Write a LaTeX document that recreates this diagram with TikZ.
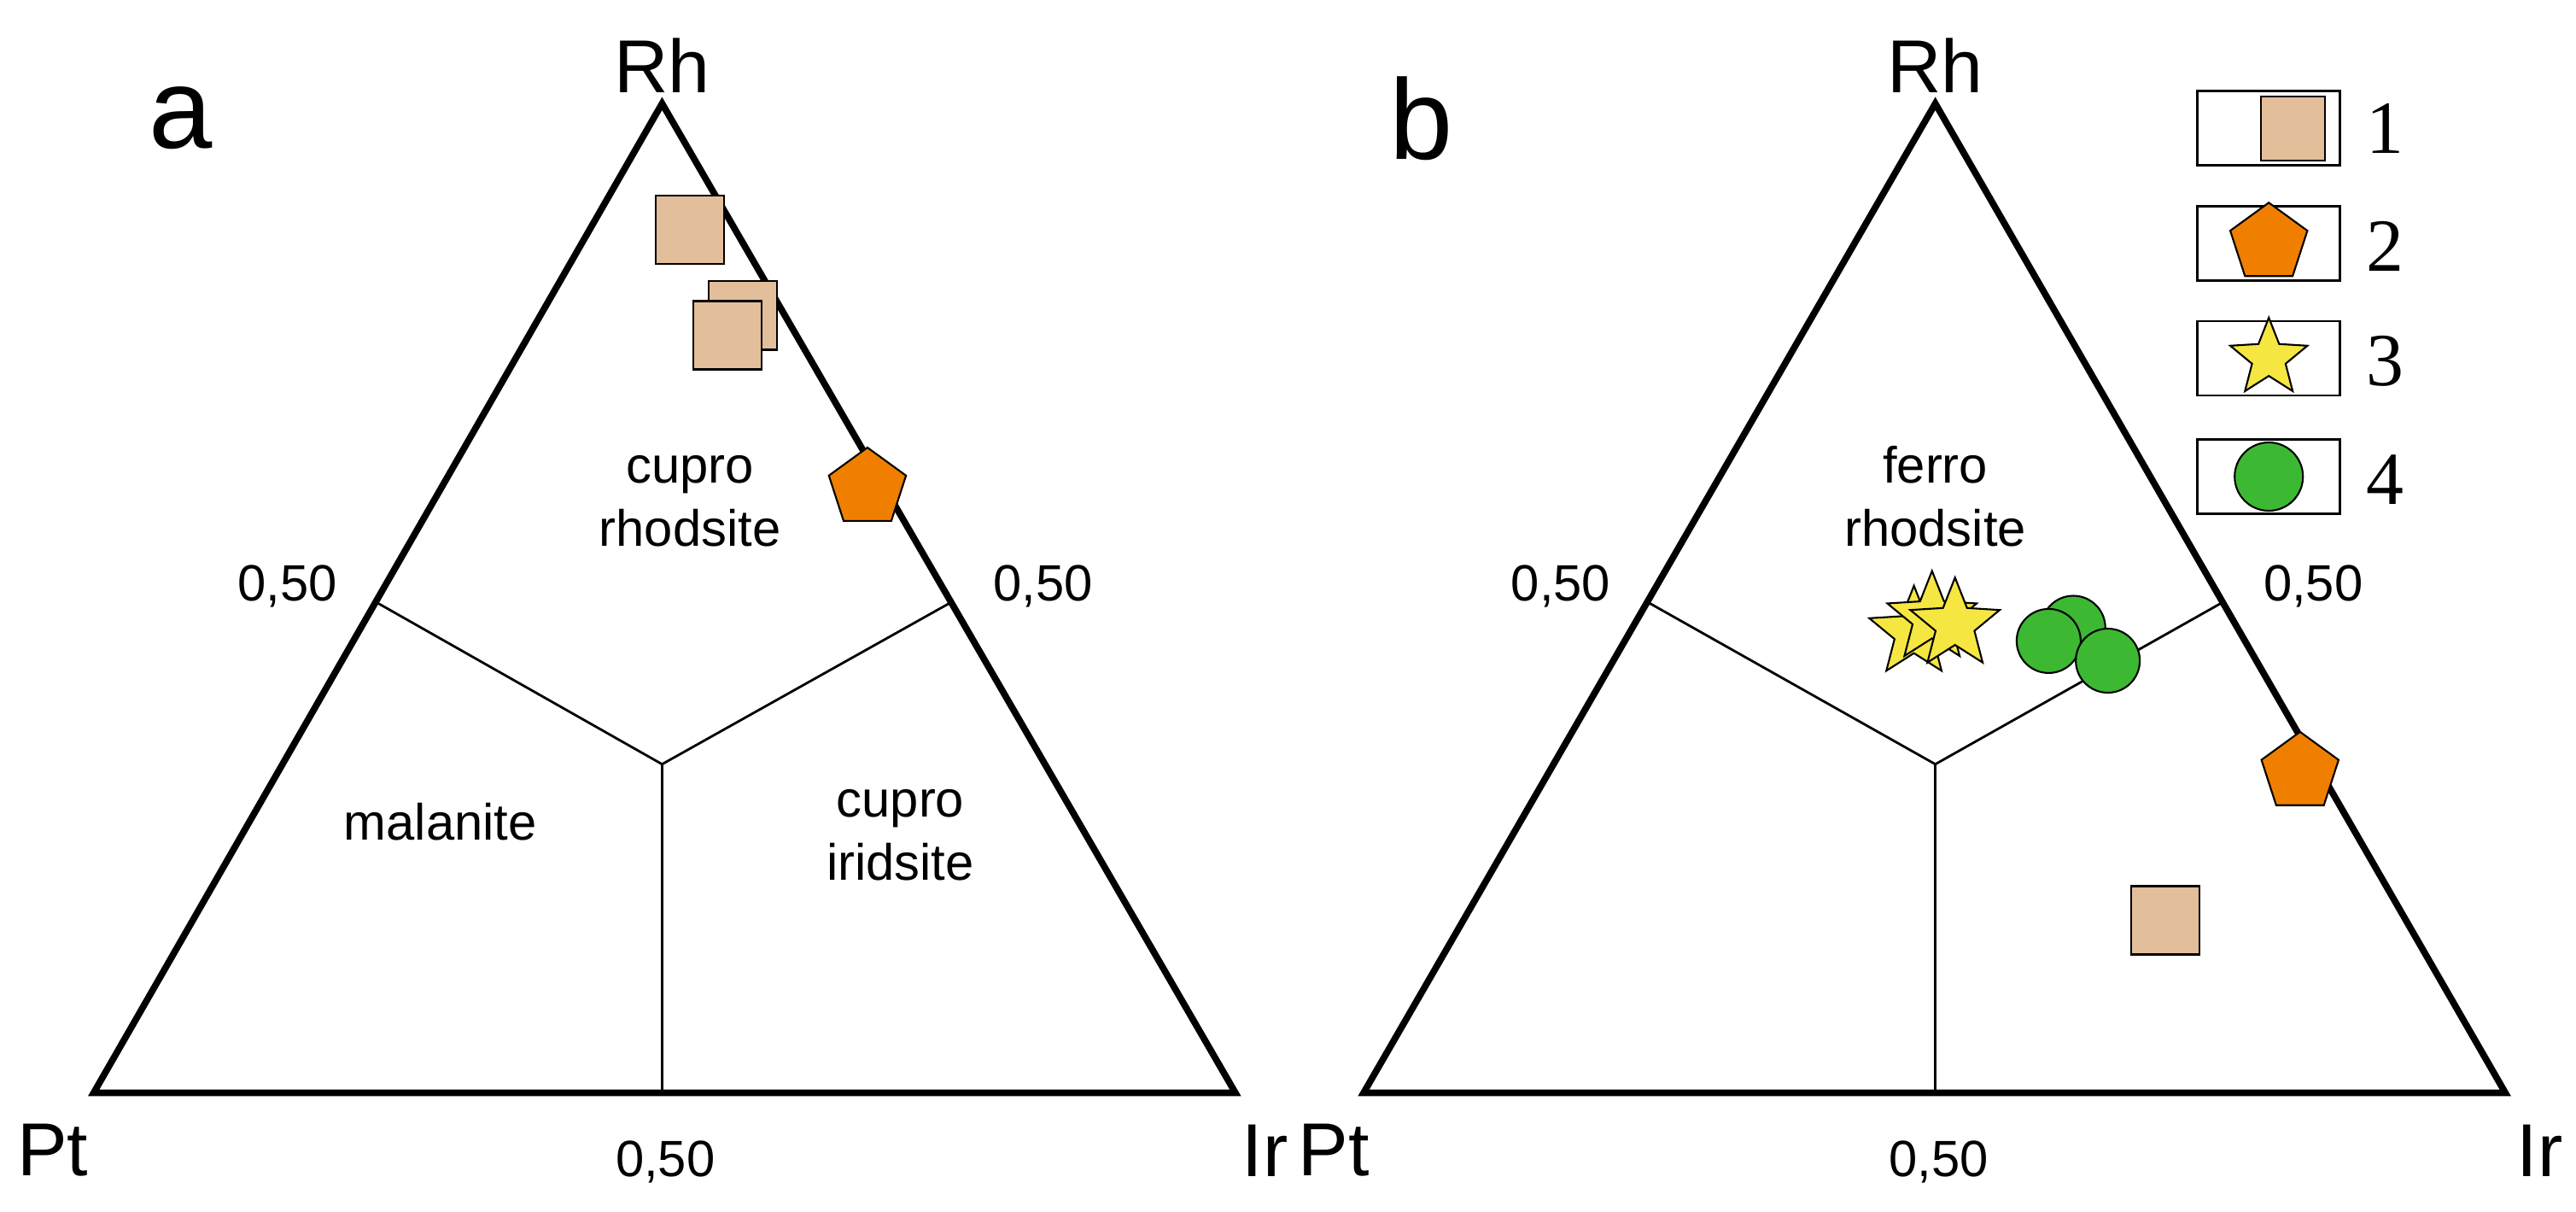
\documentclass[tikz,border=0pt]{standalone}
\usepackage{fontspec}
\setmainfont{Liberation Sans}
\newfontfamily\serifn{Liberation Serif}
\usetikzlibrary{shapes.geometric}
\definecolor{sq}{HTML}{E3BE9A}
\definecolor{pe}{HTML}{F07F00}
\definecolor{st}{HTML}{F5E642}
\definecolor{ci}{HTML}{3DB833}
\begin{document}
\begin{tikzpicture}[x=0.01924cm,y=-0.01924cm,
 tri/.style={line width=2.2pt,line join=miter},
 div/.style={line width=0.8pt},
 lab/.style={font=\fontsize{25}{25}\selectfont},
 num/.style={font=\fontsize{17}{17}\selectfont},
 reg/.style={font=\fontsize{17}{21}\selectfont,align=center},
 sqm/.style={draw,fill=sq,minimum size=0.8cm,inner sep=0,line width=0.6pt},
 pem/.style={draw,fill=pe,regular polygon,regular polygon sides=5,minimum size=0.95cm,inner sep=0,line width=0.6pt},
 stm/.style={draw,fill=st,star,star points=5,star point ratio=2.3,minimum size=1.1cm,inner sep=0,line width=0.6pt},
 cim/.style={draw,fill=ci,circle,minimum size=0.75cm,inner sep=0,line width=0.6pt},
 lbox/.style={draw,minimum width=1.67cm,minimum height=0.87cm,line width=0.8pt},
 lnum/.style={font=\serifn\fontsize{25}{25}\selectfont}]
\useasboundingbox (0,0) rectangle (1568,737);
% triangle a
\coordinate (aPt) at (57,665); \coordinate (aIr) at (752,665); \coordinate (aRh) at (403,63);
\coordinate (aL) at (230,367); \coordinate (aR) at (578,367); \coordinate (aB) at (403,665); \coordinate (aC) at (403,465);
\draw[tri] (aPt) -- (aIr) -- (aRh) -- cycle;
\draw[div] (aL) -- (aC) -- (aR); \draw[div] (aC) -- (aB);
\node[lab] (aRhl) at (403,40) {Rh};
\node[lab] (aPtl) at (32,700) {Pt};
\node[lab] (aIrl) at (770,700) {Ir};
\node[font=\fontsize{38}{38}\selectfont] (alab) at (110,72) {a};
\node[num] (an1) at (175,357) {0,50};
\node[num] (an2) at (635,357) {0,50};
\node[num] (an3) at (405,707) {0,50};
\node[reg] (ar1) at (420,305) {cupro\\rhodsite};
\node[reg] (ar2) at (268,500) {malanite};
\node[reg] (ar3) at (548,508) {cupro\\iridsite};
\node[sqm] (as1) at (420,140) {};
\node[sqm] (as2) at (452,192) {};
\node[sqm] (as3) at (443,204) {};
\node[pem] (ap1) at (528,297) {};
% triangle b
\coordinate (bPt) at (830,665); \coordinate (bIr) at (1525,665); \coordinate (bRh) at (1178,63);
\coordinate (bL) at (1004,367); \coordinate (bR) at (1352,367); \coordinate (bB) at (1178,665); \coordinate (bC) at (1178,465);
\draw[tri] (bPt) -- (bIr) -- (bRh) -- cycle;
\draw[div] (bL) -- (bC) -- (bR); \draw[div] (bC) -- (bB);
\node[lab] (bRhl) at (1178,40) {Rh};
\node[lab] (bPtl) at (812,700) {Pt};
\node[lab] (bIrl) at (1546,700) {Ir};
\node[font=\fontsize{38}{38}\selectfont] (blab) at (865,72) {b};
\node[num] (bn1) at (950,357) {0,50};
\node[num] (bn2) at (1408,357) {0,50};
\node[num] (bn3) at (1180,707) {0,50};
\node[reg] (br1) at (1178,302) {ferro\\rhodsite};
\node[stm] (bs1) at (1165,385) {};
\node[stm] (bs2) at (1176,376) {};
\node[stm] (bs3) at (1190,380) {};
\node[cim] (bc1) at (1262,382) {};
\node[cim] (bc2) at (1247,390) {};
\node[cim] (bc3) at (1283,402) {};
\node[pem] (bp1) at (1400,470) {};
\node[sqm] (bq1) at (1318,560) {};
% legend
\node[lbox] (l1) at (1381,78) {}; \node[sqm,minimum size=0.75cm] at ([xshift=8]l1.center) {};
\node[lbox] (l2) at (1381,148) {}; \node[pem,minimum size=0.95cm] at (l2.center) {};
\node[lbox] (l3) at (1381,218) {}; \node[stm,minimum size=0.95cm] at (l3.center) {};
\node[lbox] (l4) at (1381,290) {}; \node[cim,minimum size=0.8cm] at (l4.center) {};
\node[lnum] (n1) at (1452,78) {1};
\node[lnum] (n2) at (1452,150) {2};
\node[lnum] (n3) at (1452,220) {3};
\node[lnum] (n4) at (1452,292) {4};
\end{tikzpicture}
\end{document}
